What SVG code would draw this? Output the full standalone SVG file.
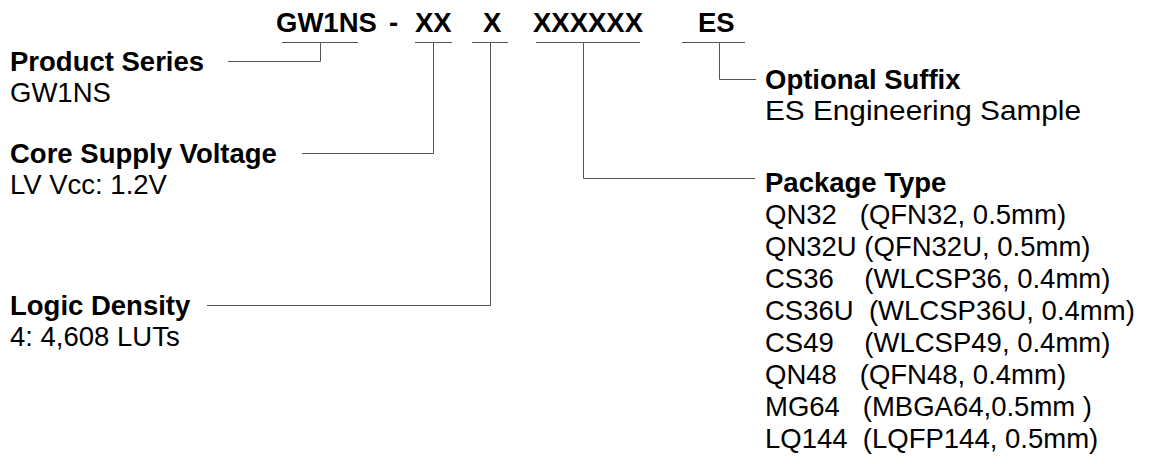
<svg xmlns="http://www.w3.org/2000/svg" width="1153" height="464" viewBox="0 0 1153 464">
<style>
text{font-family:"Liberation Sans",Arial,sans-serif;font-size:27.5px;fill:#000}
.b{font-weight:bold}
.ln{fill:none;stroke:#555;stroke-width:1}
</style>
<rect width="1153" height="464" fill="#fff"/>
<g id="part-number">
<text class="b" x="276" y="32">GW1NS</text>
<text class="b" x="389" y="32">-</text>
<text class="b" x="415" y="32">XX</text>
<text class="b" x="483" y="32">X</text>
<text class="b" x="533" y="32">XXXXXX</text>
<text class="b" x="698" y="32">ES</text>
</g>
<g id="connectors">
<path class="ln" d="M282 42.5H358M320.5 42.5V61.5H228"/>
<path class="ln" d="M415 42.5H452M433.5 42.5V153.5H302"/>
<path class="ln" d="M472 42.5H508M490.5 42.5V305.5H207"/>
<path class="ln" d="M536 42.5H640M583.5 42.5V178.5H755"/>
<path class="ln" d="M682 42.5H745M719.5 42.5V79.5H756"/>
</g>
<g id="product-series">
<text class="b" x="10" y="71">Product Series</text>
<text x="10" y="102">GW1NS</text>
</g>
<g id="core-supply-voltage">
<text class="b" x="10" y="163">Core Supply Voltage</text>
<text x="10" y="194">LV Vcc: 1.2V</text>
</g>
<g id="logic-density">
<text class="b" x="10" y="315">Logic Density</text>
<text x="10" y="346">4: 4,608 LUTs</text>
</g>
<g id="optional-suffix">
<text class="b" x="765" y="89">Optional Suffix</text>
<text x="765" y="120" textLength="316" lengthAdjust="spacingAndGlyphs">ES Engineering Sample</text>
</g>
<g id="package-type">
<text class="b" x="765" y="192">Package Type</text>
<text xml:space="preserve" x="765" y="224">QN32   (QFN32, 0.5mm)</text>
<text xml:space="preserve" x="765" y="256">QN32U (QFN32U, 0.5mm)</text>
<text xml:space="preserve" x="765" y="288">CS36    (WLCSP36, 0.4mm)</text>
<text xml:space="preserve" x="765" y="320">CS36U  (WLCSP36U, 0.4mm)</text>
<text xml:space="preserve" x="765" y="352">CS49    (WLCSP49, 0.4mm)</text>
<text xml:space="preserve" x="765" y="384">QN48   (QFN48, 0.4mm)</text>
<text xml:space="preserve" x="765" y="416">MG64   (MBGA64,0.5mm )</text>
<text xml:space="preserve" x="765" y="448">LQ144  (LQFP144, 0.5mm)</text>
</g>
</svg>
